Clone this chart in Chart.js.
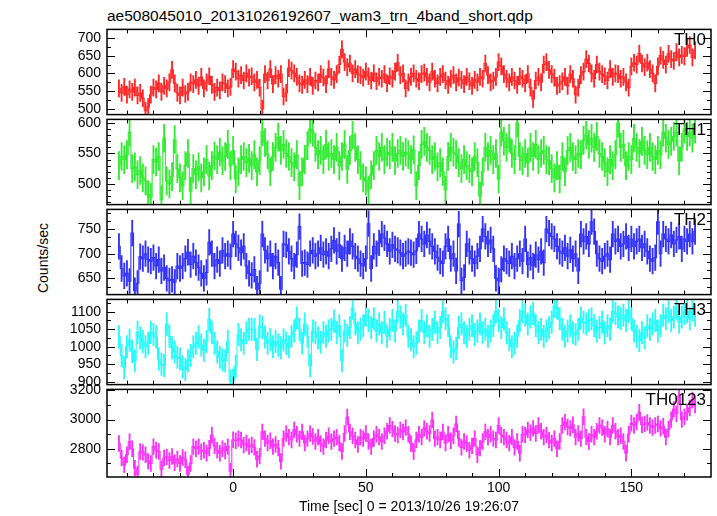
<!DOCTYPE html>
<html><head><meta charset="utf-8">
<script src="https://cdn.jsdelivr.net/npm/chart.js@4.4.1/dist/chart.umd.min.js"></script>
<style>
html,body{margin:0;padding:0;background:#fff;}
#wrap{position:relative;width:717px;height:516px;overflow:hidden;font-family:"Liberation Sans",Arial,sans-serif;color:#000;}
#wrap canvas{position:absolute;left:0;}
#title{position:absolute;left:107px;top:8px;font-size:15.5px;line-height:15.5px;white-space:nowrap;}
#ylab{position:absolute;left:43px;top:258px;font-size:14px;line-height:14px;white-space:nowrap;transform:translate(-50%,-50%) rotate(-90deg);}
</style></head><body>
<div id="wrap">
<div id="title">ae508045010_20131026192607_wam3_trn_4band_short.qdp</div>
<div id="ylab">Counts/sec</div>
</div>
<script>
// ---- data ----
const TIMES = [
-43,-42,-41,-40,-39,-38,-37,-36,-35,-34,
-33,-32,-31,-30,-29,-28,-27,-26,-25,-24,
-23,-22,-21,-20,-19,-18,-17,-16,-15,-14,
-13,-12,-11,-10,-9,-8,-7,-6,-5,-4,
-3,-2,-1,0,1,2,3,4,5,6,
7,8,9,10,11,12,13,14,15,16,
17,18,19,20,21,22,23,24,25,26,
27,28,29,30,31,32,33,34,35,36,
37,38,39,40,41,42,43,44,45,46,
47,48,49,50,51,52,53,54,55,56,
57,58,59,60,61,62,63,64,65,66,
67,68,69,70,71,72,73,74,75,76,
77,78,79,80,81,82,83,84,85,86,
87,88,89,90,91,92,93,94,95,96,
97,98,99,100,101,102,103,104,105,106,
107,108,109,110,111,112,113,114,115,116,
117,118,119,120,121,122,123,124,125,126,
127,128,129,130,131,132,133,134,135,136,
137,138,139,140,141,142,143,144,145,146,
147,148,149,150,151,152,153,154,155,156,
157,158,159,160,161,162,163,164,165,166,
167,168,169,170,171,172,173,174];

const TH0 = [
558,545,562,540,555,548,560,538,545,530,
495,505,540,560,555,572,548,565,558,575,
610,572,545,538,560,542,548,575,570,582,
565,590,558,575,592,568,548,560,552,575,
570,558,562,612,605,585,595,580,600,588,
592,575,582,560,500,598,580,612,570,595,
585,598,535,545,615,608,600,590,572,568,
582,570,590,565,580,575,598,588,570,612,
590,582,598,625,668,632,618,628,600,612,
598,595,588,605,592,580,600,578,590,585,
598,572,592,585,605,630,595,600,558,575,
590,600,585,578,598,602,590,575,605,585,
572,590,598,580,568,585,595,575,588,582,
570,590,578,565,582,575,590,585,628,595,
575,580,590,632,620,598,585,575,590,580,
568,592,585,572,598,560,528,580,590,575,
625,632,610,598,588,565,570,578,590,565,
598,585,540,560,595,605,640,628,600,585,
625,605,598,592,580,612,590,600,598,585,
590,575,560,620,630,625,656,628,618,630,
612,600,572,620,650,638,625,655,640,635,
660,645,652,648,672,680,645,665];

const TH1 = [
530,545,540,548,585,525,528,515,522,510,
505,482,478,540,536,545,474,575,505,500,
512,573,525,510,497,530,550,488,525,515,
528,510,520,540,513,530,546,540,552,538,
545,565,530,555,508,520,540,545,535,542,
530,548,520,538,586,568,548,520,545,560,
577,555,565,550,545,535,528,548,497,520,
540,563,590,585,560,548,555,540,565,545,
550,540,560,530,545,565,524,555,580,560,
540,530,510,505,490,515,530,555,545,560,
540,552,548,560,538,550,555,545,552,548,
540,556,497,530,565,570,560,555,540,545,
528,535,520,490,545,560,552,548,535,525,
540,530,525,520,545,535,480,520,560,545,
555,540,550,508,585,570,560,575,550,540,
600,545,538,550,535,560,545,565,540,550,
555,540,538,525,510,530,508,545,520,555,
560,545,540,550,548,572,580,565,575,560,
578,550,545,535,520,540,530,548,600,560,
565,530,545,540,575,560,550,570,555,548,
560,545,540,555,548,585,575,565,570,578,
585,538,560,590,578,585,575,590];

const TH2 = [
715,670,655,660,644,742,625,640,694,690,
700,688,685,692,675,688,665,672,650,645,
648,642,675,670,675,690,703,678,695,682,
672,660,650,662,723,700,675,688,680,707,
695,700,694,740,720,712,702,715,675,660,
656,668,628,640,740,707,690,700,675,695,
682,628,720,718,705,690,675,698,755,680,
682,678,700,707,695,700,712,698,705,695,
710,727,705,718,690,712,700,725,715,695,
690,680,675,690,761,670,715,700,722,740,
732,720,705,718,710,707,702,695,700,705,
702,698,706,740,730,720,738,725,715,705,
692,685,680,715,730,690,700,665,760,645,
652,720,705,690,680,695,710,750,735,720,
728,710,650,645,668,690,685,680,695,675,
690,700,685,730,678,692,675,698,688,705,
682,750,742,735,730,715,705,700,712,695,
708,690,700,665,740,725,735,720,765,745,
700,690,685,695,700,688,740,725,730,715,
720,735,712,730,715,725,730,712,720,705,
690,685,692,765,700,740,730,725,738,720,
728,735,710,730,725,740,725,745];

const TH3 = [
1028,975,940,1000,1019,986,960,1041,1025,1015,
1000,1010,1041,1035,1028,965,950,946,1065,1030,
997,985,970,965,943,935,960,975,1000,1010,
1028,1005,990,1015,1078,1040,1010,985,970,962,
960,1015,903,905,945,1035,1020,1010,1040,1050,
1050,1048,992,1059,1055,1028,1010,1020,1000,1015,
1005,997,1020,1010,1000,1030,1045,1082,1050,1010,
1065,1030,946,1045,1040,1025,1013,1040,1030,1045,
1050,1073,1040,1060,960,1045,1032,1055,1110,1065,
1040,1050,1060,1090,1075,1055,1080,1045,1065,1040,
1070,1030,1050,1075,1045,1100,1085,1065,1090,1030,
1020,1000,1010,1045,1075,1040,1060,1030,1050,1070,
1040,1055,1100,1080,1060,1000,985,995,1055,1065,
1040,1030,1050,1060,1035,1045,1065,1040,1050,1030,
1045,1060,1100,1075,1055,1080,1040,1020,1000,1010,
1030,1075,1100,1090,1065,1085,1095,1060,1040,1050,
1030,1045,1055,1070,1115,1110,1080,1050,1030,1045,
1060,1040,1035,1050,1082,1070,1065,1075,1080,1060,
1045,1055,1070,1040,1060,1050,1100,1095,1085,1080,
1090,1075,1100,1080,1045,1030,1018,1040,1025,1060,
1050,1065,1075,1045,1060,1090,1080,1100,1075,1085,
1110,1070,1085,1095,1100,1080,1105,1090];

const TH0123 = [
2837,2737,2690,2760,2849,2800,2668,2627,2782,2775,
2760,2714,2700,2815,2790,2782,2660,2737,2745,2720,
2748,2705,2730,2700,2740,2725,2627,2700,2815,2800,
2815,2780,2790,2770,2805,2895,2820,2790,2770,2800,
2785,2815,2647,2862,2855,2870,2860,2826,2840,2815,
2826,2810,2728,2750,2916,2870,2840,2855,2815,2830,
2805,2714,2870,2905,2880,2860,2930,2900,2870,2916,
2840,2870,2905,2885,2850,2880,2835,2815,2860,2890,
2850,2870,2880,2840,2782,2905,3017,2916,2890,2860,
2830,2880,2870,2905,2850,2815,2870,2900,2880,2850,
2890,2920,2960,2935,2905,2895,2930,2915,2945,2900,
2837,2782,2860,2900,2880,2940,2920,2905,2997,2870,
2880,2860,2915,2840,2900,2855,2890,2970,2870,2810,
2850,2835,2790,2820,2870,2760,2805,2850,2916,2880,
2900,2870,2860,2960,2895,2880,2860,2840,2880,2810,
2850,2770,2900,2895,2930,2910,2940,2905,2960,2920,
2880,2895,2860,2840,2870,2800,2850,2960,2983,2950,
2940,2965,2880,2905,2870,3020,2880,2850,2900,2880,
2920,2960,2945,2900,2935,2880,2960,2920,2880,2890,
2850,2770,2900,2975,2960,2983,3050,2965,2970,2980,
2960,2945,2960,2970,2940,2955,2880,2935,3000,3070,
3040,3160,3000,3020,3050,3080,3135,3100];

// one-sigma error of each panel (counts/sec)
const TH0_ERR = 24, TH1_ERR = 23, TH2_ERR = 26, TH3_ERR = 32, TH0123_ERR = 54;

const SERIES_NAMES = ['TH0','TH1','TH2','TH3','TH0123'];
const X_TICKS = [0,50,100,150];
const TH0_TICKS = [500,550,600,650,700];
const TH1_TICKS = [500,550,600];
const TH2_TICKS = [650,700,750];
const TH3_TICKS = [900,950,1000,1050,1100];
const TH0123_TICKS = [2800,3000,3200];
const X_TITLE = 'Time [sec] 0 = 2013/10/26 19:26:07';

// ---- drawing ----
const FONT = '"Liberation Sans", Arial, sans-serif';
const PANELS = [
  {name:SERIES_NAMES[0], vals:TH0, err:TH0_ERR, ticks:TH0_TICKS, min:484, max:724, minor:25, color:'rgb(255,40,40)'},
  {name:SERIES_NAMES[1], vals:TH1, err:TH1_ERR, ticks:TH1_TICKS, min:466, max:606, minor:10, color:'rgb(50,235,50)'},
  {name:SERIES_NAMES[2], vals:TH2, err:TH2_ERR, ticks:TH2_TICKS, min:617, max:790, minor:50/3, color:'rgb(50,50,250)'},
  {name:SERIES_NAMES[3], vals:TH3, err:TH3_ERR, ticks:TH3_TICKS, min:892, max:1135, minor:25, color:'rgb(40,250,250)'},
  {name:SERIES_NAMES[4], vals:TH0123, err:TH0123_ERR, ticks:TH0123_TICKS, min:2607, max:3207, minor:100, color:'rgb(250,50,250)'}
];
const PANEL_TOP = 27, PANEL_H = 90, PAD = 12;
const XMIN = -47.5, XMAX = 180;

const framePlugin = {
  id: 'frame',
  afterDraw(chart, args, o) {
    const {ctx, chartArea: a, scales} = chart;
    const xs = scales.x, ys = scales.y;
    ctx.save();
    ctx.strokeStyle = '#000';
    ctx.lineWidth = 1;
    ctx.beginPath();
    for (let v = -40; v <= 170; v += 10) {
      const px = Math.round(xs.getPixelForValue(v)) + 0.5;
      const len = v % 50 === 0 ? 8 : 4;
      ctx.moveTo(px, a.top); ctx.lineTo(px, a.top + len);
      ctx.moveTo(px, a.bottom); ctx.lineTo(px, a.bottom - len);
    }
    const p = o.panel;
    const major = p.ticks[1] - p.ticks[0];
    const start = Math.ceil(p.min / p.minor - 1e-9);
    for (let k = start; k * p.minor <= p.max + 1e-9; k++) {
      const v = k * p.minor;
      const py = Math.round(ys.getPixelForValue(v)) + 0.5;
      const isMajor = Math.abs(v / major - Math.round(v / major)) < 1e-6;
      const len = isMajor ? 8 : 4;
      ctx.moveTo(a.left, py); ctx.lineTo(a.left + len, py);
      ctx.moveTo(a.right, py); ctx.lineTo(a.right - len, py);
    }
    ctx.stroke();
    ctx.lineWidth = 1.5;
    ctx.strokeRect(a.left, a.top, a.right - a.left, a.bottom - a.top);
    ctx.fillStyle = '#000';
    ctx.font = '17px ' + FONT;
    ctx.textAlign = 'right';
    ctx.textBaseline = 'middle';
    ctx.fillText(p.name, a.right - 5, a.top + 11);
    ctx.restore();
  }
};

const wrap = document.getElementById('wrap');
PANELS.forEach((p, i) => {
  const last = i === PANELS.length - 1;
  const top = PANEL_TOP + i * PANEL_H - PAD;
  const h = last ? 516 - top : PANEL_H + 2 * PAD;
  const c = document.createElement('canvas');
  c.width = 717; c.height = h;
  c.style.top = top + 'px';
  c.style.width = '717px'; c.style.height = h + 'px';
  wrap.appendChild(c);
  const line = TIMES.map((t, j) => ({x: t, y: p.vals[j]}));
  const bars = TIMES.map((t, j) => ({x: t, y: [p.vals[j] - p.err, p.vals[j] + p.err]}));
  new Chart(c, {
    type: 'line',
    data: {datasets: [
      {type: 'line', data: line, stepped: 'middle', borderColor: p.color, borderWidth: 1.1,
       pointRadius: 0, fill: false, clip: 0, order: 1},
      {type: 'bar', data: bars, backgroundColor: p.color, borderWidth: 0, barThickness: 1.2,
       grouped: false, clip: 0, order: 2}
    ]},
    options: {
      responsive: false, animation: false, devicePixelRatio: 1, events: [],
      layout: {padding: {top: PAD, bottom: last ? 0 : PAD, left: 0, right: 6}},
      plugins: {legend: {display: false}, tooltip: {enabled: false}, frame: {panel: p}},
      scales: {
        x: {
          type: 'linear', min: XMIN, max: XMAX, offset: false, display: last,
          grid: {display: false, drawTicks: false}, border: {display: false},
          afterBuildTicks: s => { s.ticks = X_TICKS.map(v => ({value: v})); },
          afterFit: s => { s.height = last ? 39 : 0; },
          ticks: {font: {size: 14, family: FONT}, color: '#000', padding: 3, maxRotation: 0, autoSkip: false,
                  callback: v => String(v)},
          title: {display: last, text: X_TITLE, color: '#000', font: {size: 14, family: FONT, lineHeight: 1.2},
                  padding: {top: 0, bottom: 0}}
        },
        y: {
          type: 'linear', min: p.min, max: p.max,
          grid: {display: false, drawTicks: false}, border: {display: false},
          afterBuildTicks: s => { s.ticks = p.ticks.map(v => ({value: v})); },
          afterFit: s => { s.width = 107; },
          ticks: {font: {size: 14, family: FONT}, color: '#000', padding: 6, autoSkip: false,
                  callback: v => String(v)}
        }
      }
    },
    plugins: [framePlugin]
  });
});
</script>
</body></html>
